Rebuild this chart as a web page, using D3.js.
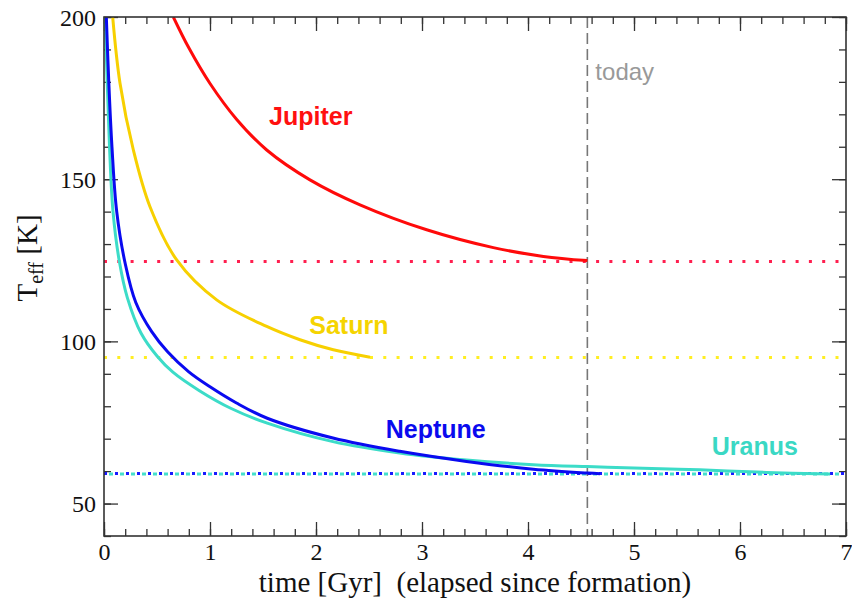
<!DOCTYPE html>
<html>
<head>
  <meta charset="UTF-8" />
  <title>Giant planet cooling: Teff vs time</title>
  <script src="https://d3js.org/d3.v7.min.js"></script>
  <style>
    body { margin: 0; background: #fff; }
    .tick text { font-family: "Liberation Serif", "Times New Roman", serif; font-size: 24px; fill: #111; }
    .tick line { stroke: #333; stroke-width: 1.3px; }
    .axis-title { font-family: "Liberation Serif", "Times New Roman", serif; font-size: 29px; fill: #111; }
    .planet-label { font-family: "Liberation Sans", Arial, sans-serif; font-size: 25px; font-weight: bold; }
    .curve { fill: none; stroke-width: 3px; stroke-linejoin: round; }
  </style>
</head>
<body>
  <svg id="chart" width="852" height="602"></svg>
  <script>
    // curves: [time Gyr, Teff K]
    const jupiter = [[0.654,200],[0.8,190.5],[1.0,179.5],[1.25,168.5],[1.535,159],[1.943,149.8],[2.415,142.1],[3.044,134.4],[3.673,128.9],[4.145,126.2],[4.56,124.9]];
    const saturn = [[0.082,200],[0.151,179.6],[0.277,159],[0.434,141.5],[0.686,125.1],[1.063,112.8],[1.535,104.6],[1.849,100.5],[2.163,97.4],[2.51,95.1]];
    const neptune = [[0.022,200],[0.045,180],[0.075,160],[0.12,140],[0.2,124],[0.3,112],[0.45,103],[0.6,96.8],[0.8,90.6],[1.0,86.0],[1.25,81.0],[1.54,76.3],[2.16,70.2],[2.79,66.1],[3.42,63.0],[4.05,60.6],[4.56,59.4],[4.68,59.2]];
    const uranus = [[0.012,200],[0.03,180],[0.052,160],[0.085,140],[0.145,124.6],[0.22,113.5],[0.35,102.5],[0.5,95.5],[0.65,90.5],[0.9,84.8],[1.2,79.3],[1.54,74.8],[2.16,69.1],[2.79,65.6],[3.42,63.4],[4.05,62.0],[4.56,61.4],[5.0,61.0],[5.62,60.4],[6.25,59.6],[6.85,59.1]];

    // observed temperatures today (horizontal reference lines)
    const observedT = { jupiter: 124.6, saturn: 95.0, neptune: 59.3, uranus: 59.1 };
    const today = 4.56;

    const xMajor = [0, 1, 2, 3, 4, 5, 6, 7];
    const yMajor = [50, 100, 150, 200];

    const labels = [
      { name: "Jupiter", t: 1.95, T: 166.7, color: "#ff1010" },
      { name: "Saturn",  t: 2.31, T: 102.3, color: "#f5d400" },
      { name: "Neptune", t: 3.13, T: 70.3,  color: "#0a0aee" },
      { name: "Uranus",  t: 6.14, T: 65.0,  color: "#3ad8c4" }
    ];

    const margin = { left: 104, right: 6, top: 17, bottom: 66 };
    const width = 852, height = 602;
    const iw = width - margin.left - margin.right;
    const ih = height - margin.top - margin.bottom;

    const svg = d3.select("#chart");
    const g = svg.append("g").attr("transform", `translate(${margin.left},${margin.top})`);

    const x = d3.scaleLinear().domain([0, 7]).range([0, iw]);
    const y = d3.scaleLinear().domain([40, 200]).range([ih, 0]);

    g.append("clipPath").attr("id", "clip")
      .append("rect").attr("width", iw).attr("height", ih);

    // minor ticks on all four sides
    const xMinor = d3.range(0, 7.001, 0.2);
    const yMinor = d3.range(40, 200.001, 10);
    g.append("g").attr("transform", `translate(0,${ih})`)
      .call(d3.axisBottom(x).tickValues(xMinor).tickSize(-7).tickFormat(""));
    g.append("g")
      .call(d3.axisTop(x).tickValues(xMinor).tickSize(-7).tickFormat(""));
    g.append("g")
      .call(d3.axisLeft(y).tickValues(yMinor).tickSize(-7).tickFormat(""));
    g.append("g").attr("transform", `translate(${iw},0)`)
      .call(d3.axisRight(y).tickValues(yMinor).tickSize(-7).tickFormat(""));

    // major ticks
    const xAxis = g.append("g").attr("transform", `translate(0,${ih})`)
      .call(d3.axisBottom(x).tickValues(xMajor).tickSize(-14).tickPadding(7).tickFormat(d3.format("d")));
    g.append("g")
      .call(d3.axisTop(x).tickValues(xMajor).tickSize(-14).tickFormat(""));
    const yAxis = g.append("g")
      .call(d3.axisLeft(y).tickValues(yMajor).tickSize(-14).tickPadding(8).tickFormat(d3.format("d")));
    g.append("g").attr("transform", `translate(${iw},0)`)
      .call(d3.axisRight(y).tickValues(yMajor).tickSize(-14).tickFormat(""));

    g.selectAll(".domain").remove();
    xAxis.selectAll("text").attr("dy", "0.71em");
    yAxis.selectAll("text").attr("dy", "0.34em");

    // "today" marker
    g.append("line")
      .attr("x1", x(today)).attr("x2", x(today))
      .attr("y1", 0).attr("y2", ih)
      .attr("stroke", "#777").attr("stroke-width", 1.6)
      .attr("stroke-dasharray", "11,5");
    g.append("text")
      .attr("x", x(today) + 8).attr("y", y(180.6))
      .attr("font-family", "Liberation Sans, Arial, sans-serif")
      .attr("font-size", 24).attr("fill", "#999")
      .text("today");

    // observed values
    const hline = (T, color, dash, offset) => g.append("line")
      .attr("x1", 0).attr("x2", iw)
      .attr("y1", y(T)).attr("y2", y(T))
      .attr("stroke", color).attr("stroke-width", 3)
      .attr("stroke-dasharray", dash).attr("stroke-dashoffset", offset || 0);
    hline(observedT.jupiter, "#ff1f4f", "3,10.3");
    hline(observedT.saturn, "#ffee22", "3,10.3");
    hline(observedT.uranus, "#45e0cc", "4,7", 6);
    hline(observedT.neptune, "#1a1aff", "3,8");

    const line = d3.line()
      .x(d => x(d[0])).y(d => y(d[1]))
      .curve(d3.curveCatmullRom.alpha(0.5));

    const curves = g.append("g").attr("clip-path", "url(#clip)");
    curves.append("path").datum(uranus).attr("class", "curve").attr("stroke", "#3cdcc8").attr("d", line);
    curves.append("path").datum(neptune).attr("class", "curve").attr("stroke", "#0a0af0").attr("d", line);
    curves.append("path").datum(saturn).attr("class", "curve").attr("stroke", "#f7d000").attr("d", line);
    curves.append("path").datum(jupiter).attr("class", "curve").attr("stroke", "#ff0a0a").attr("d", line);

    g.selectAll("text.planet-label")
      .data(labels)
      .join("text")
      .attr("class", "planet-label")
      .attr("x", d => x(d.t)).attr("y", d => y(d.T))
      .attr("text-anchor", "middle")
      .attr("fill", d => d.color)
      .text(d => d.name);

    // frame
    g.append("rect")
      .attr("width", iw).attr("height", ih)
      .attr("fill", "none").attr("stroke", "#333").attr("stroke-width", 1.6);

    // axis titles
    svg.append("text")
      .attr("class", "axis-title")
      .attr("x", margin.left + iw / 2).attr("y", 592)
      .attr("text-anchor", "middle")
      .attr("xml:space", "preserve")
      .text("time [Gyr]  (elapsed since formation)");

    const yt = svg.append("text")
      .attr("class", "axis-title")
      .attr("transform", "translate(37,258) rotate(-90)")
      .attr("text-anchor", "middle");
    yt.append("tspan").text("T");
    yt.append("tspan").attr("font-size", 20).attr("dy", 6).text("eff");
    yt.append("tspan").attr("dy", -6).text(" [K]");
  </script>
</body>
</html>
